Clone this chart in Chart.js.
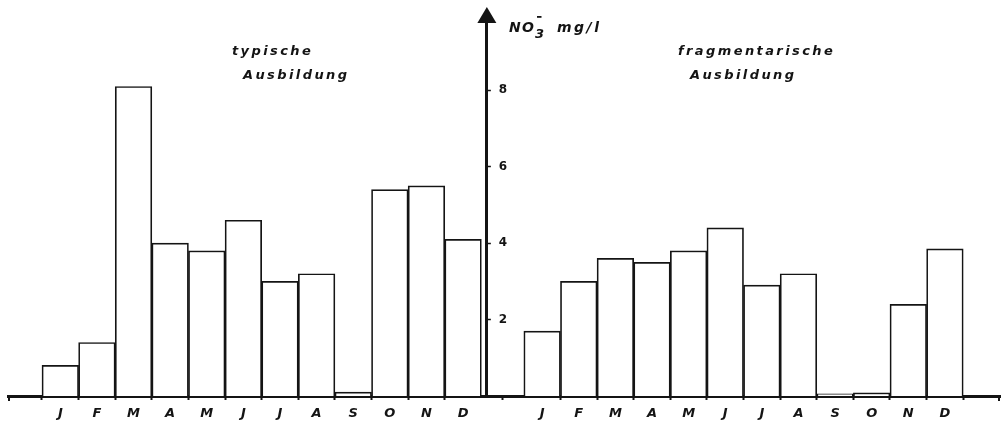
<!DOCTYPE html>
<html lang="de">
<head>
<meta charset="UTF-8">
<title>NO3 mg/l - typische und fragmentarische Ausbildung</title>
<script src="https://cdn.jsdelivr.net/npm/chart.js"></script>
<style>
  body { margin: 0; background: #fff; }
  #wrap { position: relative; width: 1001px; height: 424px; }
</style>
</head>
<body>
<div id="wrap"><canvas id="chart"></canvas></div>
<script>
// Monatswerte NO3- (mg/l)
const months = ['J', 'F', 'M', 'A', 'M', 'J', 'J', 'A', 'S', 'O', 'N', 'D'];
const typisch = [0.8, 1.4, 8.1, 4.0, 3.8, 4.6, 3.0, 3.2, 0.1, 5.4, 5.5, 4.1];
const fragmentarisch = [1.7, 3.0, 3.6, 3.5, 3.8, 4.4, 2.9, 3.2, 0.06, 0.08, 2.4, 3.85];
const yTicks = [2, 4, 6, 8];
const titleLeft = ['typische', 'Ausbildung'];
const titleRight = ['fragmentarische', 'Ausbildung'];

// Lage der beiden Gruppen auf der x-Achse (in Balkenbreiten)
const X_MIN = -0.864, X_MAX = 25.1;
const RIGHT_SHIFT = 13.16;
const AXIS_X = 11.65;
const Y_MAX = 9.84;
const INK = '#141414';
const FONT = '"DejaVu Sans", sans-serif';

const xTickValues = months.map((m, i) => i).concat(months.map((m, i) => i + RIGHT_SHIFT));

// y-Achse in die Mitte verschieben
const moveAxis = {
    id: 'moveAxis',
    afterLayout(chart) {
        const y = chart.scales.y;
        const px = chart.scales.x.getPixelForValue(AXIS_X);
        y.left = px;
        y.right = px + 30;
        y._gridLineItems = null;
        y._labelItems = null;
    }
};

// Pfeil, Achsenenden und Beschriftungen
const decor = {
    id: 'decor',
    afterDraw(chart) {
        const ctx = chart.ctx;
        const area = chart.chartArea;
        const px = chart.scales.y.left;
        const base = chart.scales.x.top;
        ctx.save();
        ctx.fillStyle = INK;
        ctx.strokeStyle = INK;

        ctx.beginPath();
        ctx.moveTo(px, area.top - 13);
        ctx.lineTo(px - 9.5, area.top + 3);
        ctx.lineTo(px + 9.5, area.top + 3);
        ctx.closePath();
        ctx.fill();

        ctx.lineWidth = 2;
        ctx.beginPath();
        ctx.moveTo(area.left + 1, base);
        ctx.lineTo(area.left + 1, base + 5);
        ctx.moveTo(area.right - 1, base);
        ctx.lineTo(area.right - 1, base + 5);
        ctx.stroke();

        ctx.textBaseline = 'alphabetic';
        ctx.textAlign = 'left';
        ctx.font = 'italic bold 13px ' + FONT;
        ctx.letterSpacing = '2.4px';
        ctx.fillText(titleLeft[0], 232, 55);
        ctx.fillText(titleLeft[1], 243, 79);
        ctx.fillText(titleRight[0], 678, 55);
        ctx.fillText(titleRight[1], 690, 79);

        // NO3- mg/l
        ctx.letterSpacing = '0px';
        ctx.font = 'italic bold 14px ' + FONT;
        ctx.fillText('N', 509, 32);
        ctx.fillText('O', 522, 32);
        ctx.font = 'italic bold 13px ' + FONT;
        ctx.fillText('3', 535, 38);
        ctx.fillRect(537, 16, 4.5, 1.8);
        ctx.font = 'italic bold 14px ' + FONT;
        ctx.letterSpacing = '2.5px';
        ctx.fillText('mg/l', 557, 32);
        ctx.restore();
    }
};

new Chart(document.getElementById('chart'), {
    type: 'bar',
    data: {
        datasets: [
            {
                label: 'typische Ausbildung',
                data: typisch.map((v, i) => ({ x: i, y: v })),
                backgroundColor: '#ffffff',
                borderColor: INK,
                borderWidth: 1.7
            },
            {
                label: 'fragmentarische Ausbildung',
                data: fragmentarisch.map((v, i) => ({ x: i + RIGHT_SHIFT, y: v })),
                backgroundColor: '#ffffff',
                borderColor: INK,
                borderWidth: 1.7
            }
        ]
    },
    options: {
        responsive: true,
        maintainAspectRatio: false,
        animation: false,
        layout: { padding: { left: 8, right: 1, top: 20, bottom: 0 } },
        datasets: {
            bar: {
                grouped: false,
                categoryPercentage: 1,
                barPercentage: 1
            }
        },
        plugins: {
            legend: { display: false },
            tooltip: { enabled: false },
            colors: { enabled: false }
        },
        scales: {
            x: {
                type: 'linear',
                position: 'bottom',
                min: X_MIN,
                max: X_MAX,
                z: 1,
                afterBuildTicks: s => { s.ticks = xTickValues.map(v => ({ value: v })); },
                afterFit: s => { s.height = 28; },
                grid: { drawOnChartArea: false, drawTicks: true, tickLength: 4, tickWidth: 2, color: INK },
                border: { display: true, color: INK, width: 3 },
                ticks: {
                    autoSkip: false,
                    maxRotation: 0,
                    minRotation: 0,
                    padding: 6,
                    color: INK,
                    font: { family: FONT, size: 13, style: 'italic', weight: 'bold' },
                    callback: (v, i) => months[i % 12]
                }
            },
            y: {
                type: 'linear',
                position: 'right',
                min: 0,
                max: Y_MAX,
                z: 1,
                afterBuildTicks: s => { s.ticks = yTicks.map(v => ({ value: v })); },
                afterFit: s => { s.width = 0; },
                grid: { drawOnChartArea: false, drawTicks: true, tickLength: 4, tickWidth: 1.5, color: INK },
                border: { display: true, color: INK, width: 3 },
                ticks: {
                    padding: 8,
                    color: INK,
                    font: { family: FONT, size: 12, weight: 'bold' }
                }
            }
        }
    },
    plugins: [moveAxis, decor]
});
</script>
</body>
</html>
